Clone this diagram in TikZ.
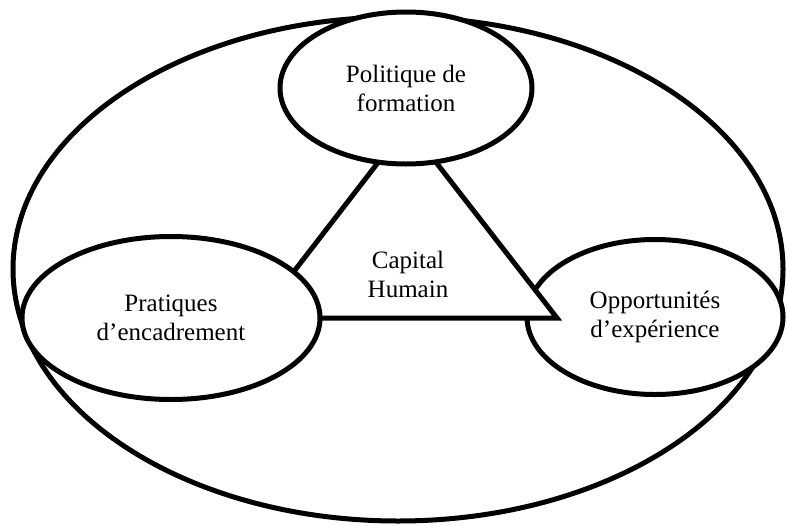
\documentclass[tikz,border=0pt]{standalone}
\usepackage{fontspec}
\setmainfont{Liberation Serif}
\usetikzlibrary{shapes.geometric}
\begin{document}
\begin{tikzpicture}[x=1pt,y=-1pt,
  ring/.style={ellipse, draw, line width=5pt, fill=white, inner sep=0pt,
    align=center, font=\fontsize{25}{29}\selectfont},
  txt/.style={inner sep=0pt, align=center, font=\fontsize{25}{29}\selectfont},
  edge/.style={draw, line width=5pt, fill=white}]
\useasboundingbox (0,0) rectangle (787,525);
% outer frame
\node[ring, minimum width=770pt, minimum height=504pt] (whole) at (398,269) {};
% right bubble sits under the triangle tip
\node[ring, minimum width=256pt, minimum height=155pt] (exp) at (655,317) {Opportunités\\d’expérience};
% central triangle
\coordinate (apex) at (407,125);
\coordinate (lft) at (258,318);
\coordinate (rgt) at (557,318);
\draw[edge] (apex) -- (lft) -- (rgt) -- cycle;
\node[txt] (cap) at (408,274) {Capital\\Humain};
% bubbles drawn over the triangle
\node[ring, minimum width=252pt, minimum height=152pt] (form) at (406,88) {Politique de\\formation};
\node[ring, minimum width=298pt, minimum height=163pt] (enc) at (171,318) {Pratiques\\d’encadrement};
\end{tikzpicture}
\end{document}
